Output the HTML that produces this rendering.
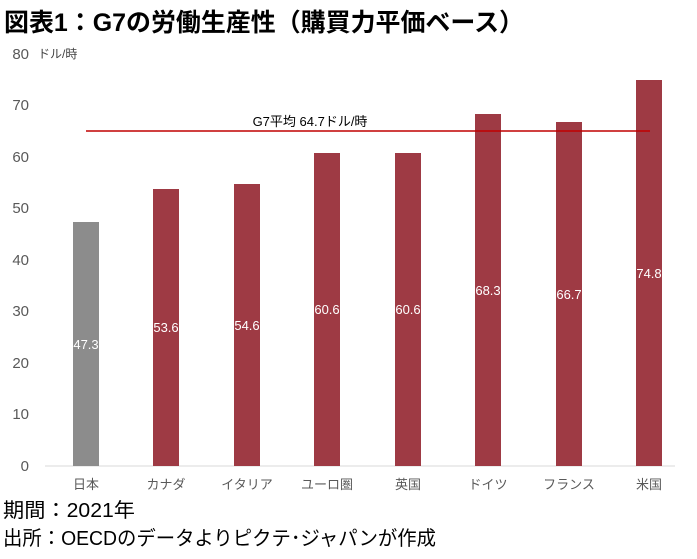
<!DOCTYPE html>
<html><head><meta charset="utf-8"><style>
body{margin:0;background:#fff;width:697px;height:554px;overflow:hidden;font-family:"Liberation Sans","Noto Sans CJK JP",sans-serif;}
</style></head><body>
<svg width="697" height="554" xmlns="http://www.w3.org/2000/svg" font-family="Liberation Sans, Noto Sans CJK JP, sans-serif">
<text x="4" y="31" font-size="25" font-weight="bold" fill="#000" textLength="520" lengthAdjust="spacingAndGlyphs">図表1：G7の労働生産性（購買力平価ベース）</text>
<g font-size="15" fill="#595959" text-anchor="end">
<text x="29" y="471">0</text>
<text x="29" y="419">10</text>
<text x="29" y="368">20</text>
<text x="29" y="316">30</text>
<text x="29" y="265">40</text>
<text x="29" y="213">50</text>
<text x="29" y="162">60</text>
<text x="29" y="110">70</text>
<text x="29" y="59">80</text>
</g>
<text x="38" y="58" font-size="12" fill="#404040">ドル/時</text>
<line x1="45" y1="466" x2="675" y2="466" stroke="#d9d9d9" stroke-width="1"/>
<g>
<rect x="73" y="222" width="26" height="244" fill="#8c8c8c"/>
<rect x="153" y="189" width="26" height="277" fill="#9e3a44"/>
<rect x="234" y="184" width="26" height="282" fill="#9e3a44"/>
<rect x="314" y="153" width="26" height="313" fill="#9e3a44"/>
<rect x="395" y="153" width="26" height="313" fill="#9e3a44"/>
<rect x="475" y="114" width="26" height="352" fill="#9e3a44"/>
<rect x="556" y="122" width="26" height="344" fill="#9e3a44"/>
<rect x="636" y="80" width="26" height="386" fill="#9e3a44"/>
</g>
<g font-size="13" fill="#fff" text-anchor="middle">
<text x="86" y="349">47.3</text>
<text x="166" y="332">53.6</text>
<text x="247" y="330">54.6</text>
<text x="327" y="314">60.6</text>
<text x="408" y="314">60.6</text>
<text x="488" y="295">68.3</text>
<text x="569" y="299">66.7</text>
<text x="649" y="278">74.8</text>
</g>
<line x1="86" y1="131" x2="650" y2="131" stroke="#c00000" stroke-width="1.5"/>
<text x="310" y="126" font-size="13" fill="#000" text-anchor="middle">G7平均 64.7ドル/時</text>
<g font-size="13" fill="#595959" text-anchor="middle">
<text x="86" y="489">日本</text>
<text x="166" y="489">カナダ</text>
<text x="247" y="489">イタリア</text>
<text x="327" y="489">ユーロ圏</text>
<text x="408" y="489">英国</text>
<text x="488" y="489">ドイツ</text>
<text x="569" y="489">フランス</text>
<text x="649" y="489">米国</text>
</g>
<text x="3" y="517" font-size="20" fill="#000" textLength="132" lengthAdjust="spacingAndGlyphs">期間：2021年</text>
<text x="3" y="545" font-size="20" fill="#000" textLength="433" lengthAdjust="spacingAndGlyphs">出所：OECDのデータよりピクテ･ジャパンが作成</text>
</svg>
</body></html>
